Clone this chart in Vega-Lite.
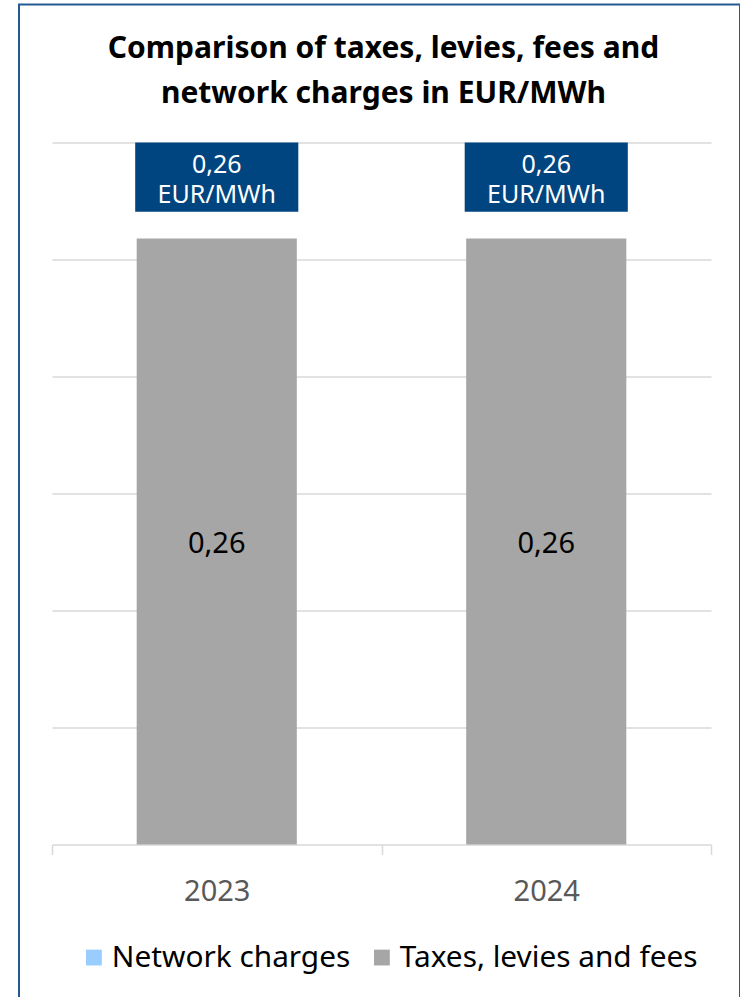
{
  "$schema": "https://vega.github.io/schema/vega-lite/v6.json",
  "width": 721,
  "height": 1000,
  "padding": {"left": 19, "top": 4.5, "right": 0, "bottom": 0},
  "background": "white",
  "title": {
    "text": ["Comparison of taxes, levies, fees and", "network charges in EUR/MWh"],
    "font": "Noto Sans",
    "fontSize": 30,
    "fontWeight": "bold",
    "color": "#000000",
    "lineHeight": 45,
    "anchor": "middle",
    "offset": -104,
    "dx": 4
  },
  "datasets": {
    "bars": [
      {"year": "2023", "category": "Network charges", "value": 0},
      {"year": "2023", "category": "Taxes, levies and fees", "value": 0.259},
      {"year": "2024", "category": "Network charges", "value": 0},
      {"year": "2024", "category": "Taxes, levies and fees", "value": 0.259}
    ],
    "totals": [
      {"year": "2023", "label": "0,26\nEUR/MWh"},
      {"year": "2024", "label": "0,26\nEUR/MWh"}
    ]
  },
  "encoding": {
    "x": {
      "field": "year",
      "type": "nominal",
      "scale": {"range": [33, 692], "paddingInner": 0, "paddingOuter": 0},
      "axis": {
        "title": null,
        "labelAngle": 0,
        "labelFont": "Noto Sans",
        "labelFontSize": 29,
        "labelColor": "#595959",
        "labelPadding": 23,
        "tickBand": "extent",
        "tickSize": 10,
        "tickColor": "#D9D9D9",
        "tickWidth": 1.5,
        "domainColor": "#D9D9D9",
        "domainWidth": 1.5,
        "offset": -160
      }
    }
  },
  "layer": [
    {
      "data": {"name": "bars"},
      "mark": {"type": "bar", "width": {"band": 0.486}},
      "encoding": {
        "y": {
          "field": "value",
          "type": "quantitative",
          "stack": "zero",
          "scale": {"domain": [0, 0.3], "range": [840.1, 138.1], "nice": false, "zero": true},
          "axis": {
            "title": null,
            "labels": false,
            "ticks": false,
            "domain": false,
            "grid": true,
            "values": [0.05, 0.1, 0.15, 0.2, 0.25, 0.3],
            "gridColor": "#D9D9D9",
            "gridWidth": 1.5
          }
        },
        "color": {
          "field": "category",
          "type": "nominal",
          "scale": {"domain": ["Network charges", "Taxes, levies and fees"], "range": ["#99CCFF", "#A6A6A6"]},
          "legend": {
            "title": null,
            "orient": "none",
            "direction": "horizontal",
            "legendX": 60,
            "legendY": 938,
            "symbolType": "square",
            "symbolSize": 250,
            "symbolStrokeWidth": 0,
            "labelFont": "Noto Sans",
            "labelFontSize": 29.8,
            "labelColor": "#000000",
            "labelOffset": 3,
            "columnPadding": 16,
            "labelLimit": 500,
            "padding": 0
          }
        }
      }
    },
    {
      "data": {"name": "bars"},
      "transform": [{"filter": "datum.value > 0"}],
      "mark": {"type": "text", "font": "Noto Sans", "fontSize": 29, "color": "#000000", "baseline": "middle", "dy": 305},
      "encoding": {
        "y": {"field": "value", "type": "quantitative"},
        "text": {"field": "value", "type": "quantitative", "format": ".2f"}
      }
    },
    {
      "data": {"name": "totals"},
      "mark": {"type": "bar", "width": {"band": 0.495}, "color": "#00457F"},
      "encoding": {
        "y": {"datum": 0.3, "type": "quantitative"},
        "y2": {"datum": 0.2705}
      }
    },
    {
      "data": {"name": "totals"},
      "mark": {"type": "text", "font": "Noto Sans", "fontSize": 25, "color": "#FFFFFF", "baseline": "middle", "lineBreak": "\n", "lineHeight": 30, "dy": -14},
      "encoding": {
        "y": {"datum": 0.2845, "type": "quantitative"},
        "text": {"field": "label", "type": "nominal"}
      }
    }
  ],
  "config": {
    "locale": {"number": {"decimal": ",", "thousands": ".", "grouping": [3], "currency": ["", " €"]}},
    "view": {"stroke": "#245A92", "strokeWidth": 2}
  }
}
